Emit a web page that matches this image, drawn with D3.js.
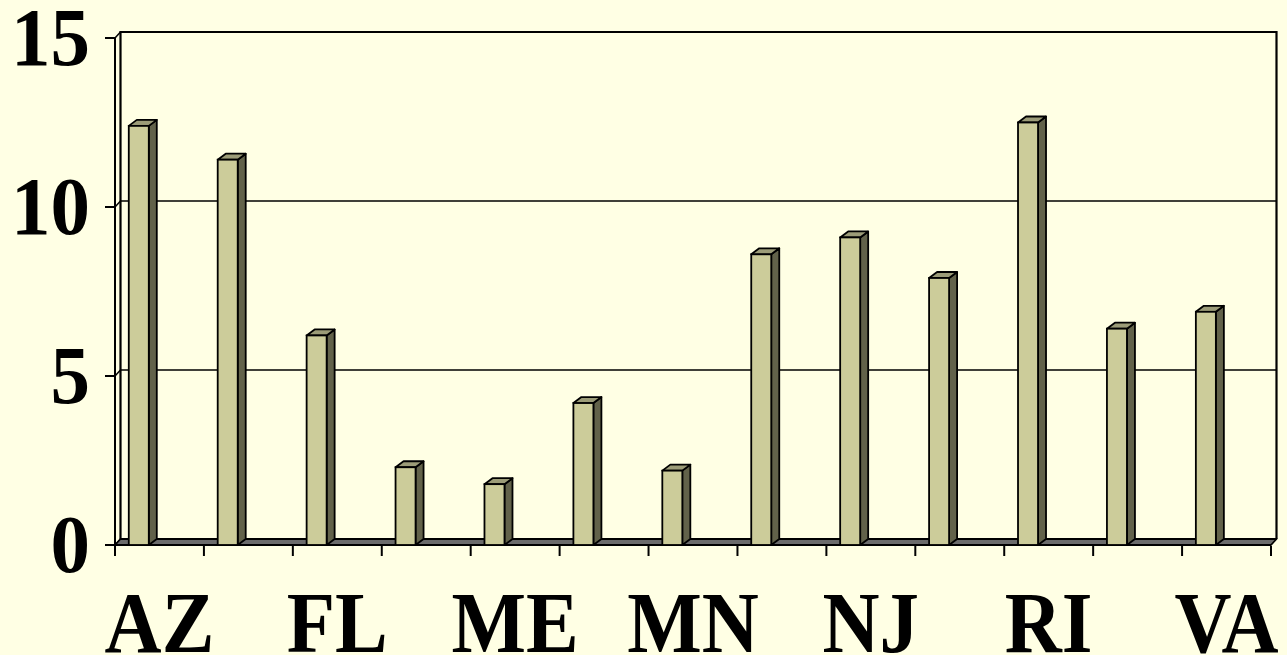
<!DOCTYPE html>
<html>
<head>
<meta charset="utf-8">
<script src="https://cdn.jsdelivr.net/npm/d3@7"></script>
<style>
  html, body { margin: 0; padding: 0; background: #FFFFE4; }
  svg { display: block; }
</style>
</head>
<body>
<svg id="chart" width="1287" height="655"></svg>
<script>
// Category axis: 13 states, only every other one carries a printed label
const categories = ["AZ", "c2", "FL", "c4", "ME", "c6", "MN", "c8", "NJ", "c10", "RI", "c12", "VA"];
const axisLabels = ["AZ", "", "FL", "", "ME", "", "MN", "", "NJ", "", "RI", "", "VA"];
const values = [12.4, 11.4, 6.2, 2.3, 1.8, 4.2, 2.2, 8.6, 9.1, 7.9, 12.5, 6.4, 6.9];
const yTicks = [0, 5, 10, 15];

const svg = d3.select("#chart");
const W = 1287, H = 655;

// Plot frame (front edge of floor / side wall and the back wall)
const left = 115, right = 1271;
const wallDx = 5.5, wallDy = 6;          // depth of floor and side wall
const barDx = 8, barDy = 6;              // depth of each column
const frontBase = 545, frontTop = 38;

const x = d3.scaleBand().domain(d3.range(categories.length)).range([left, right]).paddingInner(0).paddingOuter(0);
const yFront = d3.scaleLinear().domain([0, 15]).range([frontBase, frontTop]);
const yBack = v => yFront(v) - wallDy;
const backLeft = left + wallDx, backRight = right + wallDx;

svg.append("rect").attr("width", W).attr("height", H).attr("fill", "#FFFFE4");

const g = svg.append("g");

// back wall gridlines
g.selectAll("line.grid").data(yTicks.filter(v => v > 0 && v < 15)).join("line")
  .attr("class", "grid")
  .attr("x1", backLeft).attr("x2", backRight)
  .attr("y1", d => yBack(d)).attr("y2", d => yBack(d))
  .attr("stroke", "#000").attr("stroke-width", 1.3);

// side wall: gridline continuations
g.selectAll("line.side").data(yTicks).join("line")
  .attr("class", "side")
  .attr("x1", backLeft).attr("y1", d => yBack(d))
  .attr("x2", left).attr("y2", d => yFront(d))
  .attr("stroke", "#000").attr("stroke-width", 1.5);

// back wall outline (top, left and right edges)
g.append("path")
  .attr("d", `M${backLeft},${yBack(0)} L${backLeft},${yBack(15)} L${backRight},${yBack(15)} L${backRight},${yBack(0)}`)
  .attr("fill", "none").attr("stroke", "#000").attr("stroke-width", 2.2);

// front edge of the side wall (value axis line)
g.append("line")
  .attr("x1", left).attr("x2", left)
  .attr("y1", yFront(15)).attr("y2", frontBase + 1)
  .attr("stroke", "#000").attr("stroke-width", 2);

// floor
g.append("path")
  .attr("d", `M${left},${frontBase} L${right},${frontBase} L${backRight},${yBack(0)} L${backLeft},${yBack(0)} Z`)
  .attr("fill", "#6B6B6B").attr("stroke", "#000").attr("stroke-width", 1.8).attr("stroke-linejoin", "round");

// value axis ticks and labels
g.selectAll("line.ytick").data(yTicks).join("line")
  .attr("class", "ytick")
  .attr("x1", left - 10).attr("x2", left)
  .attr("y1", d => yFront(d)).attr("y2", d => yFront(d))
  .attr("stroke", "#000").attr("stroke-width", 2);

g.selectAll("text.ylab").data(yTicks).join("text")
  .attr("class", "ylab")
  .attr("transform", d => `translate(90,${yFront(d) + 27}) scale(1,1.05)`)
  .attr("text-anchor", "end")
  .attr("font-family", "'Liberation Serif', 'Times New Roman', serif")
  .attr("font-weight", "bold")
  .attr("font-size", 79)
  .attr("fill", "#000")
  .text(d => d);

// category axis ticks below the floor
const tickXs = d3.range(categories.length + 1).map(i => i < categories.length ? x(i) : right);
g.selectAll("line.xtick").data(tickXs).join("line")
  .attr("class", "xtick")
  .attr("x1", d => d).attr("x2", d => d)
  .attr("y1", frontBase + 1).attr("y2", frontBase + 11)
  .attr("stroke", "#000").attr("stroke-width", 2);

// columns
const bw = x.bandwidth();
const barW = bw * 0.225;
const barOff = bw * 0.155;
const bars = g.selectAll("g.bar").data(values).join("g").attr("class", "bar");
const x0 = (d, i) => x(i) + barOff;

bars.append("path") // side face
  .attr("d", (d, i) => {
    const a = x0(d, i) + barW, t = yFront(d);
    return `M${a},${frontBase} L${a},${t} L${a + barDx},${t - barDy} L${a + barDx},${frontBase - barDy} Z`;
  })
  .attr("fill", "#62624A").attr("stroke", "#000").attr("stroke-width", 1.8).attr("stroke-linejoin", "round");

bars.append("path") // top face
  .attr("d", (d, i) => {
    const a = x0(d, i), t = yFront(d);
    return `M${a},${t} L${a + barW},${t} L${a + barW + barDx},${t - barDy} L${a + barDx},${t - barDy} Z`;
  })
  .attr("fill", "#9C9C78").attr("stroke", "#000").attr("stroke-width", 1.8).attr("stroke-linejoin", "round");

bars.append("rect") // front face
  .attr("x", (d, i) => x0(d, i))
  .attr("y", d => yFront(d))
  .attr("width", barW)
  .attr("height", d => frontBase - yFront(d))
  .attr("fill", "#CCCC9A").attr("stroke", "#000").attr("stroke-width", 1.8);

// category labels
g.selectAll("text.xlab").data(axisLabels).join("text")
  .attr("class", "xlab")
  .attr("transform", (d, i) => `translate(${x(i) + bw / 2},652) scale(1,1.1)`)
  .attr("text-anchor", "middle")
  .attr("font-family", "'Liberation Serif', 'Times New Roman', serif")
  .attr("font-weight", "bold")
  .attr("font-size", 79)
  .attr("fill", "#000")
  .text(d => d);
</script>
</body>
</html>
